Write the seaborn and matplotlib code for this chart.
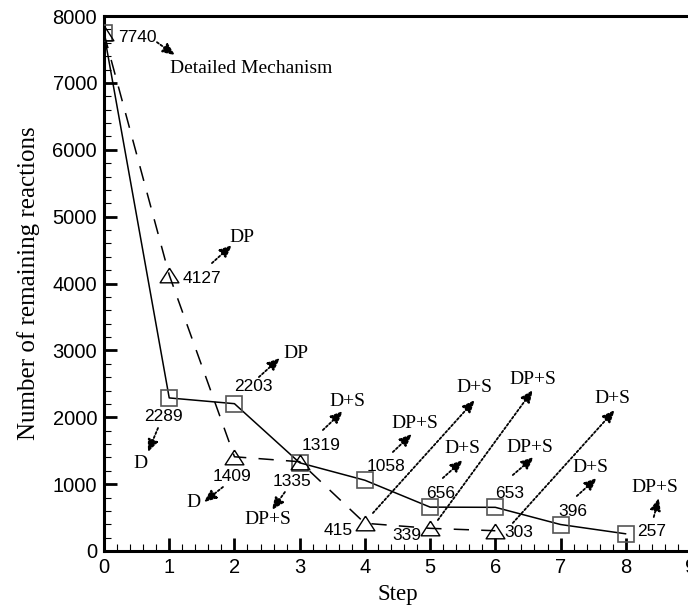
import matplotlib
matplotlib.use("Agg")
import matplotlib.pyplot as plt
from matplotlib.ticker import MultipleLocator
import seaborn as sns
import pandas as pd

# Reduction path A (squares, solid line)
steps_a = [0, 1, 2, 3, 4, 5, 6, 7, 8]
reactions_a = [7740, 2289, 2203, 1319, 1058, 656, 653, 396, 257]
methods_a = ["D", "DP", "D+S", "DP+S", "D+S", "DP+S", "D+S", "DP+S"]

# Reduction path B (triangles, dashed line)
steps_b = [0, 1, 2, 3, 4, 5, 6]
reactions_b = [7740, 4127, 1409, 1335, 415, 339, 303]
methods_b = ["DP", "D", "DP+S", "D+S", "DP+S", "D+S"]

start_label = "Detailed Mechanism"

x_ticks = list(range(0, 10))
y_ticks = list(range(0, 8001, 1000))

df_a = pd.DataFrame({"Step": steps_a, "Reactions": reactions_a})
df_b = pd.DataFrame({"Step": steps_b, "Reactions": reactions_b})

sns.set_style("ticks")
plt.rcParams["font.family"] = ["Liberation Sans", "DejaVu Sans"]
plt.rcParams["text.color"] = "black"
plt.rcParams["axes.labelcolor"] = "black"
plt.rcParams["xtick.color"] = "black"
plt.rcParams["ytick.color"] = "black"

SERIF = ["Liberation Serif", "DejaVu Serif"]
SANS = ["Liberation Sans", "DejaVu Sans"]

fig = plt.figure(figsize=(6.88, 6.07), dpi=100)
ax = fig.add_axes([104 / 688, 1 - 551 / 607, (691 - 104) / 688, (551 - 16) / 607])

tri = [(0, 0.78), (-1, -0.78), (1, -0.78), (0, 0.78)]

sns.lineplot(data=df_a, x="Step", y="Reactions", ax=ax, color="black", lw=1.1,
             marker="s", markersize=11, markerfacecolor="none",
             markeredgecolor="#555555", markeredgewidth=1.2, zorder=3)
sns.lineplot(data=df_b, x="Step", y="Reactions", ax=ax, color="black", lw=1.1,
             linestyle=(0, (10, 8)), marker=tri, markersize=13.5,
             markerfacecolor="none", markeredgecolor="black",
             markeredgewidth=1.0, zorder=3)

ax.set_xlim(0, 9)
ax.set_ylim(0, 8000)
ax.set_xticks(x_ticks)
ax.set_yticks(y_ticks)
ax.xaxis.set_minor_locator(MultipleLocator(0.2))
ax.yaxis.set_minor_locator(MultipleLocator(200))
ax.tick_params(which="major", direction="in", length=9.5, width=2.0,
               labelsize=14.5, pad=5, top=False, right=False)
ax.tick_params(which="minor", direction="in", length=5, width=0.8,
               top=False, right=False)
for lab in ax.get_xticklabels() + ax.get_yticklabels():
    lab.set_family(SANS)

for side in ["left", "bottom", "top"]:
    ax.spines[side].set_linewidth(2.2)
    ax.spines[side].set_color("black")
ax.spines["right"].set_visible(False)

ax.set_xlabel("Step", fontsize=16.5, family=SERIF, labelpad=5)
ax.set_ylabel("Number of remaining reactions", fontsize=18, family=SERIF, labelpad=9)

# value labels next to each marker (offsets in pixels)
off_a = [(33, -4), (-6, -19), (19, 17), (21, 17), (21, 14), (11, 14), (14, 14), (12, 13.5), (26, 2)]
off_b = [(33, -3), (-2, -20), (-8, -20), (-27, -7), (-23, -7), (23, -2)]

num_kw = dict(textcoords="offset pixels", ha="center", va="center",
              fontsize=12.5, family=SANS, zorder=4)
for (s, v), (dx, dy) in zip(zip(steps_a, reactions_a), off_a):
    ax.annotate(f"{v}", xy=(s, v), xytext=(dx, dy), **num_kw)
for (s, v), (dx, dy) in zip(zip(steps_b[1:], reactions_b[1:]), off_b):
    ax.annotate(f"{v}", xy=(s, v), xytext=(dx, dy), **num_kw)

# dotted arrows from each value to its reduction method
arrow_kw = dict(arrowstyle="-|>,head_length=0.75,head_width=0.32",
                linestyle=(0, (1.2, 1.2)), lw=1.3, color="black",
                shrinkA=0, shrinkB=0)

def method_arrow(tail, head, text_pos, text):
    ax.annotate("", xy=head, xytext=tail, arrowprops=arrow_kw, zorder=4)
    ax.text(text_pos[0], text_pos[1], text, ha="center", va="center",
            fontsize=14, family=SERIF, zorder=4)

method_arrow((0.812, 7608), (1.088, 7414), (2.253, 7220), start_label)

layout_a = [
    ((0.828, 1839), (0.674, 1480), (0.552, 1315)),
    ((2.375, 2601), (2.697, 2885), (2.943, 2960)),
    ((3.356, 1809), (3.663, 2093), (3.739, 2242)),
    ((4.429, 1480), (4.720, 1749), (4.766, 1913)),
    ((5.195, 1091), (5.502, 1360), (5.502, 1540)),
    ((6.268, 1136), (6.590, 1405), (6.529, 1555)),
    ((7.249, 822), (7.556, 1091), (7.464, 1256)),
    ((8.429, 508), (8.506, 792), (8.444, 957)),
]
layout_b = [
    ((1.655, 4305), (1.962, 4574), (2.115, 4694)),
    ((1.824, 957), (1.533, 732), (1.364, 732)),
    ((2.774, 882), (2.575, 613), (2.513, 478)),
    ((4.123, 568), (5.686, 2257), (5.686, 2451)),
    ((5.119, 463), (6.575, 2407), (6.575, 2571)),
    ((6.268, 419), (7.831, 2108), (7.801, 2287)),
]
for m, (t, h, p) in zip(methods_a, layout_a):
    method_arrow(t, h, p, m)
for m, (t, h, p) in zip(methods_b, layout_b):
    method_arrow(t, h, p, m)

fig.savefig("out.png", dpi=100)
